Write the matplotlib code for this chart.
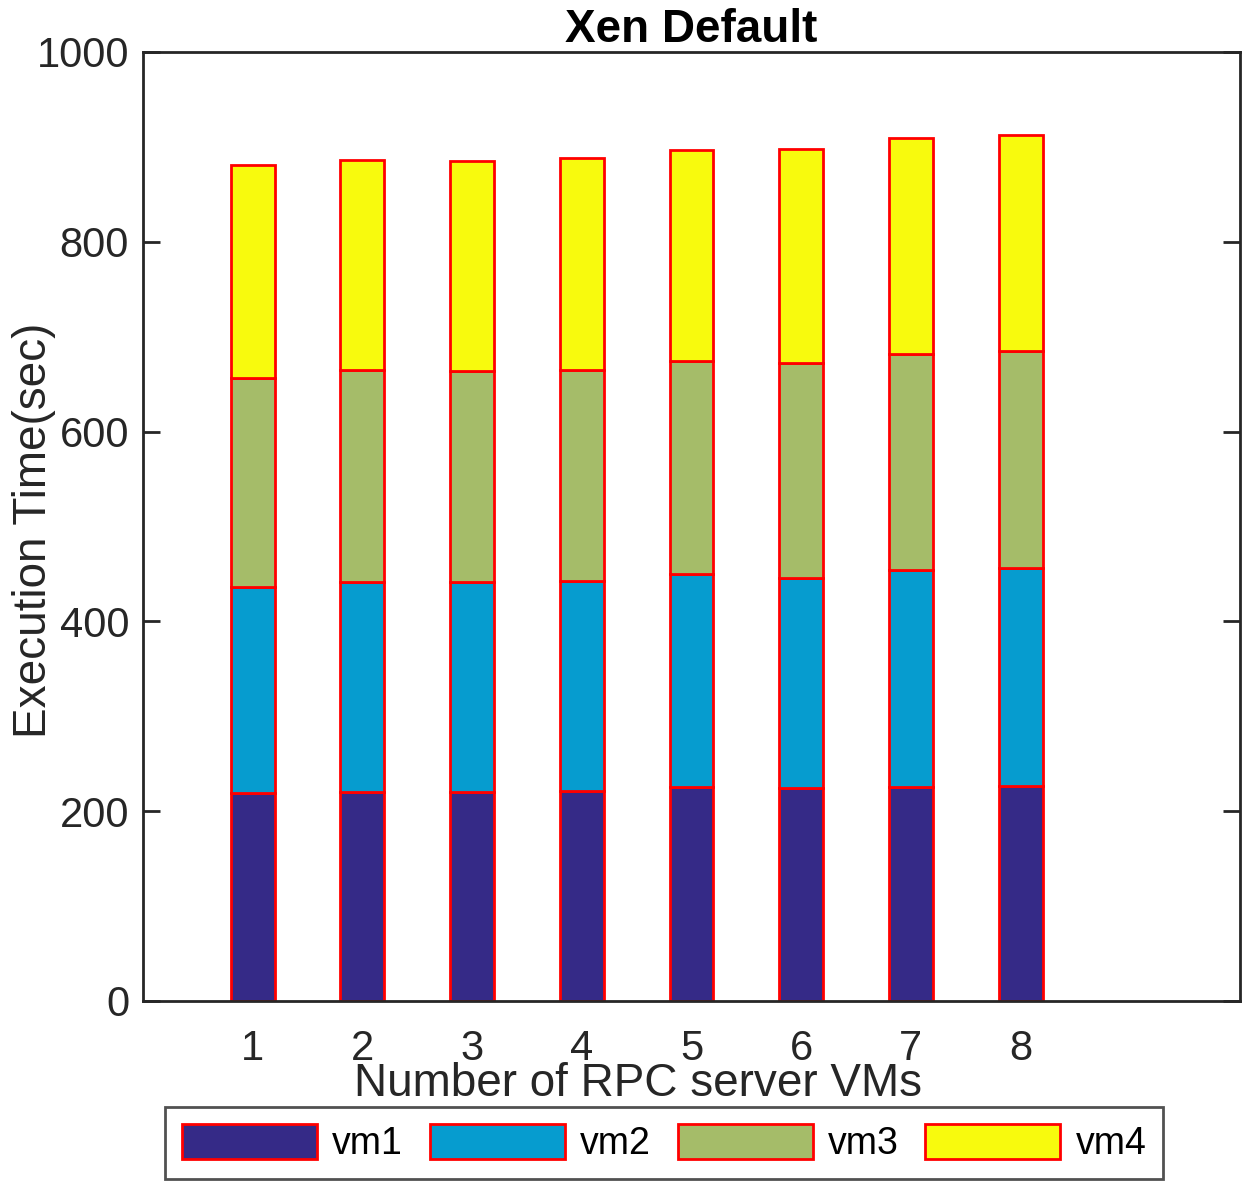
import matplotlib.pyplot as plt
import numpy as np

plt.rcParams['font.family'] = ['Liberation Sans', 'DejaVu Sans']

# stacked execution times per number of RPC server VMs
n_vms = [1, 2, 3, 4, 5, 6, 7, 8]
vm1 = [219, 220, 220, 221, 225, 224, 226, 227]
vm2 = [217, 222, 221, 222, 225, 222, 228, 229]
vm3 = [221, 223, 223, 222, 224, 226, 228, 229]
vm4 = [224, 221, 221, 223, 223, 226, 227, 228]
labels = ['vm1', 'vm2', 'vm3', 'vm4']
colors = ['#352a87', '#069ccf', '#a5bc69', '#f8fa0d']

fig = plt.figure(figsize=(12.5, 11.87), dpi=100)
ax = fig.add_axes([143/1250, 1 - 1001/1187, (1240-143)/1250, (1001-52)/1187])

bottom = np.zeros(len(n_vms))
for vals, lab, c in zip([vm1, vm2, vm3, vm4], labels, colors):
    ax.bar(n_vms, vals, width=0.4, bottom=bottom, color=c, edgecolor='red',
           linewidth=2, label=lab, zorder=2)
    bottom += np.array(vals)

ax.set_xlim(0, 10)
ax.set_ylim(0, 1000)
ax.set_xticks(n_vms)
ax.set_yticks(range(0, 1001, 200))
ax.tick_params(axis='x', length=0, labelsize=30, pad=20, colors='#262626')
ax.tick_params(axis='y', direction='in', length=12, width=2, labelsize=30,
               right=True, colors='#262626', pad=10)
for s in ax.spines.values():
    s.set_linewidth(2)
    s.set_color('#262626')

ax.set_title('Xen Default', fontsize=33, fontweight='bold', pad=6)
ax.set_xlabel('Number of RPC server VMs', fontsize=33, color='#262626')
ax.xaxis.set_label_coords((638 - 143) / 1097, -(1096 - 1001) / 949)
ax.xaxis.label.set_va('baseline')
ax.set_ylabel('Execution Time(sec)', fontsize=33, color='#262626')
ax.yaxis.set_label_coords((56 - 143) / 1097, (1001 - 530) / 949)

leg = fig.legend(loc='center', bbox_to_anchor=(664/1250, 1 - 1143/1187), ncol=4,
                 prop={'family': ['Liberation Sans Narrow', 'Liberation Sans'], 'size': 27},
                 frameon=True, fancybox=False, edgecolor='#262626',
                 handlelength=3.6, handleheight=1.05, columnspacing=0.72,
                 handletextpad=0.4, borderpad=0.45)
leg.get_frame().set_linewidth(2)

fig.savefig('out.png', dpi=100)
